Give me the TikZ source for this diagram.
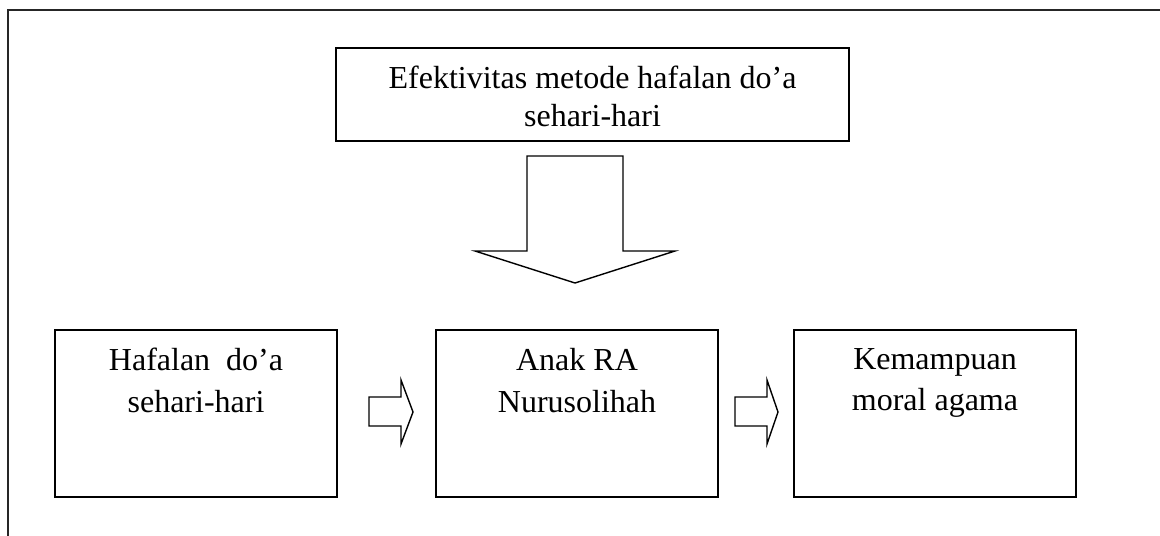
\documentclass[tikz,border=0pt]{standalone}
\usepackage{fontspec}
\setmainfont{Liberation Serif}
\usetikzlibrary{positioning,calc}

\begin{document}
\begin{tikzpicture}[x=0.5pt,y=-0.5pt,
  box/.style={draw,line width=1pt,inner sep=0pt},
  txt/.style={inner sep=0pt,align=center,font=\fontsize{16}{20.8}\selectfont},
  blockarrow/.style={draw,line width=0.7pt,line join=miter}]
\useasboundingbox (0,0) rectangle (1160,535);

% outer frame (only top and left visible)
\draw[line width=1pt,black!85] (1162,10) -- (8,10) -- (8,537);

\node[box,minimum width=256.5pt,minimum height=46.5pt] (efek) at (592.5,94.5) {};
\node[txt,font=\fontsize{16}{18.7}\selectfont,below=9.5pt of efek.north] (efektxt)
  {Efektivitas metode hafalan do’a\\sehari-hari};

\node[box,minimum width=141pt,minimum height=83.5pt] (hafalan) at (196,413.5) {};
\node[box,minimum width=141pt,minimum height=83.5pt] (anak) at (577,413.5) {};
\node[box,minimum width=141pt,minimum height=83.5pt] (moral) at (935,413.5) {};

\node[txt,below=9.5pt of hafalan.north] (hafalantxt) {Hafalan~~do’a\\sehari-hari};
\node[txt,below=9.5pt of anak.north] (anaktxt) {Anak RA\\Nurusolihah};
\node[txt,below=9.5pt of moral.north] (moraltxt) {Kemampuan\\moral agama};

% block arrows
\draw[blockarrow] ($(efek.south)+(-65.5,14)$) -- ++(96,0) -- ++(0,95) -- ++(52,0)
  -- ++(-100,32) -- ++(-100,-32) -- ++(52,0) -- cycle;
\draw[blockarrow] ($(hafalan.east)+(31,-16.5)$) -- ++(32,0) -- ++(0,-17) -- ++(12,32)
  -- ++(-12,32) -- ++(0,-18) -- ++(-32,0) -- cycle;
\draw[blockarrow] ($(anak.east)+(16,-16.5)$) -- ++(32,0) -- ++(0,-17) -- ++(11,32)
  -- ++(-11,32) -- ++(0,-18) -- ++(-32,0) -- cycle;

\end{tikzpicture}
\end{document}
